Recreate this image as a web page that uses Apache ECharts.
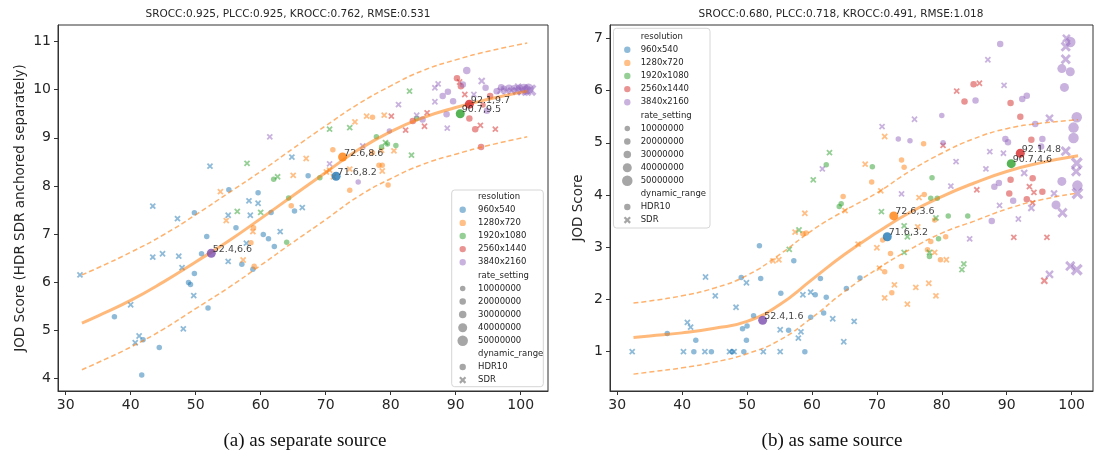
<!DOCTYPE html>
<html>
<head>
<meta charset="utf-8">
<script src="https://cdn.jsdelivr.net/npm/echarts@6/dist/echarts.min.js"></script>
<style>
html, body { margin: 0; padding: 0; background: #fff; }
#chart { width: 1099px; height: 460px; }
</style>
</head>
<body>
<div id="chart"></div>
<script>
// dynamic_range flag, rate_setting is stored as 1..5 (x 10000000)
var H = 0, S = 1;

var xTicks = [30, 40, 50, 60, 70, 80, 90, 100];
var leftYTicks = [4, 5, 6, 7, 8, 9, 10, 11];
var rightYTicks = [1, 2, 3, 4, 5, 6, 7];

var resolutions = ['960x540', '1280x720', '1920x1080', '2560x1440', '3840x2160'];
var rateSettings = ['10000000', '20000000', '30000000', '40000000', '50000000'];
var dynamicRanges = ['HDR10', 'SDR'];

// (a) as separate source
var left960 = [[32.2,6.15,1,S],[37.5,5.28,1,H],[40.0,5.53,1,S],[41.3,4.88,1,S],[40.7,4.74,1,S],[41.9,4.80,1,H],[44.4,4.64,1,H],[41.7,4.07,1,H],[43.4,7.58,1,S],[43.4,6.52,1,S],[44.9,6.59,1,S],[47.2,7.32,1,S],[47.4,6.54,1,S],[47.9,6.30,1,S],[48.9,5.99,1,H],[49.2,5.95,1,H],[49.7,5.72,1,S],[49.8,6.18,1,H],[49.8,7.44,1,H],[51.9,5.46,1,H],[51.7,6.95,1,H],[50.9,6.59,1,H],[48.1,5.03,1,S],[55.0,7.39,1,S],[55.0,6.43,1,S],[55.1,7.92,1,H],[56.2,7.13,1,H],[57.1,6.37,1,H],[58.2,7.69,1,S],[58.4,7.39,1,S],[57.8,6.81,1,S],[58.8,6.27,1,H],[59.6,7.86,1,H],[59.6,7.64,1,S],[60.4,6.99,1,H],[61.2,6.90,1,H],[61.6,7.45,1,H],[62.1,6.74,1,H],[63.0,7.05,1,S],[65.2,7.48,1,H],[66.4,7.55,1,S],[52.2,8.41,1,S],[64.8,8.60,1,S],[67.3,8.21,1,H]];
var left1280 = [[53.8,7.88,1,S],[54.7,7.28,1,S],[58.9,7.13,1,H],[58.8,7.05,1,S],[58.5,6.82,1,H],[57.3,6.46,1,S],[59.0,6.33,1,H],[64.7,7.59,1,H],[67.0,8.57,1,S],[65.0,8.22,1,S],[71.1,8.75,1,H],[70.6,8.33,1,S],[70.1,8.29,1,S],[73.7,8.35,1,S],[73.7,7.91,1,H],[76.3,9.45,1,S],[77.2,9.43,1,H],[79.0,9.47,1,S],[74.5,9.33,1,S],[77.2,8.69,1,H],[78.6,8.74,1,S],[78.2,8.43,1,H],[78.7,8.43,1,H],[78.7,8.31,1,S],[79.6,8.02,1,H],[80.5,8.73,1,S],[71.2,8.19,1,S]];
var left1920 = [[56.4,7.47,1,S],[60.0,7.45,1,S],[64.3,7.75,1,H],[64.0,6.83,1,H],[57.9,8.47,1,S],[62.0,8.14,1,H],[62.6,8.19,1,S],[70.6,9.18,1,S],[73.7,9.21,1,S],[82.9,9.97,1,S],[77.8,9.02,1,H],[78.6,8.81,1,H],[79.5,8.87,1,H],[80.8,8.84,1,H],[83.2,8.64,1,S],[69.1,8.17,1,H],[79.2,8.90,1,S],[84.0,9.40,1,H]];
var left2560 = [[80.1,9.45,1,S],[83.4,9.35,2,H],[82.3,9.16,1,S],[85.6,9.52,1,S],[85.2,9.24,1,S],[90.2,10.24,2,H],[90.6,10.16,1,S],[90.8,10.07,2,H],[91.4,9.90,1,S],[92.1,9.40,2,H],[93.0,9.18,2,H],[93.8,9.26,1,S],[93.9,8.81,2,H],[96.1,9.18,1,S],[95.3,9.87,2,H],[94.2,9.68,1,H]];
var left3840 = [[61.4,9.02,1,S],[70.6,8.46,1,S],[75.0,8.08,1,H],[75.7,8.83,1,S],[79.8,9.14,1,H],[81.2,9.69,1,S],[84.0,9.47,1,S],[84.9,9.38,2,H],[86.8,10.04,1,S],[87.3,10.12,1,S],[88.0,9.87,2,H],[86.8,9.75,1,S],[88.8,9.96,2,H],[88.7,9.20,1,S],[89.6,9.76,2,H],[88.6,9.49,2,H],[91.7,10.40,3,H],[91.1,10.11,2,H],[92.8,9.90,1,S],[94.0,10.18,2,S],[94.8,9.56,2,H],[94.6,10.04,2,H],[96.3,9.97,2,H],[96.9,9.98,2,S],[97.4,10.02,2,H],[97.8,9.97,2,S],[98.2,10.03,3,H],[98.6,9.98,2,S],[99.0,10.02,3,H],[99.4,9.97,3,S],[99.8,10.03,3,H],[100.2,9.98,4,S],[100.5,10.03,4,H],[100.9,9.97,4,S],[101.2,10.02,5,H],[101.5,9.99,5,S],[97.0,10.05,2,H],[99.6,10.06,2,S]];
var leftMarked = [[52.4,6.6],[71.6,8.2],[72.6,8.6],[90.7,9.5],[92.1,9.7]];

// (b) as same source
var right960 = [[37.7,1.35,1,H],[40.2,1.0,1,S],[41.8,1.0,1,H],[43.5,1.0,1,S],[44.5,1.0,1,H],[47.3,1.0,1,S],[48.0,1.0,1,S],[47.7,1.0,1,H],[52.5,1.0,1,S],[55.1,1.0,1,S],[58.9,1.0,1,H],[42.1,1.22,1,H],[40.8,1.56,1,S],[41.3,1.47,1,S],[43.6,2.43,1,S],[45.1,2.07,1,S],[48.3,1.85,1,S],[49.1,2.42,1,H],[49.9,2.32,1,S],[52.1,2.40,1,H],[51.9,3.03,1,H],[51.0,1.69,1,H],[49.3,1.44,1,H],[50.0,1.49,1,H],[49.9,1.22,1,H],[55.2,2.12,1,H],[55.1,1.42,1,S],[56.4,1.41,1,H],[57.9,1.26,1,S],[58.3,1.38,1,S],[58.6,2.09,1,S],[57.2,2.74,1,H],[59.8,2.14,1,S],[60.5,2.09,1,H],[59.8,1.66,1,H],[61.3,2.40,1,H],[62.2,2.04,1,H],[61.8,1.74,1,H],[63.2,1.63,1,S],[65.3,2.21,1,H],[66.5,1.58,1,S],[64.9,1.19,1,S],[67.4,2.41,1,H],[32.3,1.0,1,S],[49.5,1.0,1,H]];
var right1280 = [[54.0,2.74,1,S],[54.9,2.76,1,S],[57.4,3.29,1,S],[58.6,3.26,1,H],[59.1,3.27,1,H],[58.9,3.65,1,S],[64.8,3.97,1,H],[65.1,3.70,1,S],[67.1,3.06,1,S],[69.2,4.25,1,H],[68.2,4.59,1,S],[70.6,4.08,1,S],[70.0,2.99,1,S],[70.4,2.60,1,S],[71.2,2.03,1,S],[70.9,3.14,1,H],[71.2,5.12,1,S],[77.2,4.98,1,H],[73.8,4.67,1,H],[74.2,4.53,1,H],[76.5,3.95,1,S],[77.3,4.01,1,H],[78.9,3.52,1,H],[76.3,3.39,1,S],[72.1,2.88,1,H],[73.8,2.63,1,H],[78.3,3.11,1,H],[77.8,2.95,1,H],[78.9,2.90,1,S],[80.6,3.20,1,H],[79.8,2.76,1,H],[80.7,2.76,1,S],[71.2,2.53,1,H],[72.7,2.28,1,S],[72.3,2.13,1,H],[74.7,1.91,1,S],[76.0,2.23,1,S],[78.0,2.31,1,S],[79.1,2.07,1,S]];
var right1920 = [[56.5,2.96,1,S],[58.0,3.33,1,S],[60.2,4.29,1,S],[62.2,4.58,1,H],[62.7,4.81,1,S],[64.2,3.78,1,H],[64.5,3.83,1,H],[69.3,4.54,1,H],[70.7,3.68,1,S],[74.2,3.41,1,S],[74.7,3.20,1,S],[74.2,2.90,1,S],[78.5,4.33,1,H],[78.3,3.94,1,H],[79.3,3.94,1,H],[79.1,3.56,1,S],[81.0,3.60,1,H],[79.5,3.16,1,H],[78.1,2.82,1,H],[78.1,2.90,1,S],[83.4,2.68,1,S],[83.1,2.57,1,S],[84.0,3.60,1,H]];
var right2560 = [[82.3,5.99,1,S],[84.9,6.12,2,H],[85.8,6.14,1,S],[83.5,5.79,2,H],[90.6,5.76,2,H],[92.1,5.50,2,H],[80.2,4.95,1,S],[93.8,5.06,2,H],[94.0,4.32,2,H],[93.5,4.16,1,S],[94.2,4.05,1,S],[94.0,3.85,1,S],[95.5,4.06,2,H],[90.4,4.03,2,H],[90.6,4.29,2,H],[93.1,3.92,2,H],[85.4,4.10,1,S],[91.1,3.19,1,S],[96.2,3.19,1,S],[95.8,2.36,2,S]];
var right3840 = [[89.0,6.89,2,H],[87.1,6.59,1,S],[89.6,6.10,1,S],[92.4,5.84,2,H],[93.1,5.90,2,H],[85.2,5.81,2,H],[75.8,5.45,1,S],[80.0,5.52,1,H],[70.8,5.31,1,S],[73.3,5.07,1,H],[75.1,5.04,1,H],[80.2,5.00,1,H],[94.4,5.36,2,H],[89.8,5.07,2,H],[90.2,5.01,2,H],[95.5,5.07,2,H],[95.3,4.93,2,H],[87.4,4.83,1,S],[89.5,4.80,1,S],[82.2,4.64,1,S],[86.8,4.50,1,S],[92.7,4.42,2,S],[88.8,4.23,2,H],[88.1,4.16,2,H],[81.4,4.17,1,S],[73.8,4.02,1,S],[91.0,3.89,2,H],[88.9,3.80,1,S],[97.3,4.03,2,S],[93.8,3.75,2,S],[87.7,3.50,2,H],[91.8,3.54,1,S],[84.3,3.16,1,S],[61.6,4.50,1,S],[99.8,6.93,5,H],[99.1,6.84,4,S],[99.1,6.60,4,S],[98.5,6.42,4,H],[99.8,6.36,4,H],[98.9,6.06,4,H],[100.8,5.49,5,H],[96.6,5.47,3,S],[100.3,5.29,5,H],[100.3,5.09,5,H],[99.1,4.84,4,S],[98.5,4.26,4,H],[100.9,4.18,5,H],[97.6,3.81,4,H],[98.6,3.66,4,S],[100.8,4.61,5,S],[100.7,4.45,4,S],[100.9,4.03,5,S],[99.8,2.64,4,S],[100.8,2.57,5,S],[96.6,2.48,3,S],[99.2,7.0,3,S]];
var rightMarked = [[52.4,1.6],[71.6,3.2],[72.6,3.6],[90.7,4.6],[92.1,4.8]];

// fitted curve and its dashed band
var fitX = [32.5, 35, 40, 45, 50, 55, 60, 65, 70, 75, 80, 85, 90, 95, 101];
var leftFit = [5.15, 5.3, 5.62, 6.0, 6.42, 6.85, 7.32, 7.8, 8.28, 8.75, 9.13, 9.42, 9.63, 9.8, 9.97];
var leftUpper = [6.15, 6.3, 6.62, 6.98, 7.4, 7.85, 8.3, 8.78, 9.25, 9.7, 10.08, 10.4, 10.62, 10.8, 10.97];
var leftLower = [4.18, 4.33, 4.65, 5.02, 5.45, 5.88, 6.35, 6.83, 7.3, 7.78, 8.15, 8.45, 8.66, 8.84, 9.02];
var rightFit = [1.27, 1.3, 1.36, 1.45, 1.58, 1.9, 2.38, 2.86, 3.28, 3.66, 3.97, 4.23, 4.45, 4.61, 4.75];
var rightUpper = [1.93, 1.97, 2.07, 2.22, 2.46, 2.86, 3.32, 3.7, 4.04, 4.45, 4.8, 5.08, 5.27, 5.37, 5.44];
var rightLower = [0.57, 0.61, 0.69, 0.8, 0.96, 1.22, 1.65, 2.15, 2.58, 2.95, 3.27, 3.5, 3.73, 3.9, 4.04];

var chart = echarts.init(document.getElementById('chart'));

var COLORS = ['#1f77b4', '#ff7f0e', '#2ca02c', '#d62728', '#9467bd'];
var MARK_COLORS = ['#7b4cae', '#1f77b4', '#ff7f0e', '#2ca02c', '#d62728'];
var RATE_SIZE = [5.5, 6.5, 7.5, 9, 10.5];
var XMARK = 'path://M0,2L2,0L5,3L8,0L10,2L7,5L10,8L8,10L5,7L2,10L0,8L3,5Z';
var FONT = 'DejaVu Sans';

function pointSeries(data, color, idx) {
    return {
        type: 'scatter',
        xAxisIndex: idx,
        yAxisIndex: idx,
        data: data,
        silent: true,
        symbol: function (v) { return v[3] === S ? XMARK : 'circle'; },
        symbolSize: function (v) { return RATE_SIZE[v[2] - 1] * (v[3] === S ? 1.15 : 1); },
        itemStyle: { color: color, opacity: 0.5 },
        z: 2
    };
}

function curveSeries(ys, dashed, idx) {
    return {
        type: 'line',
        xAxisIndex: idx,
        yAxisIndex: idx,
        data: fitX.map(function (x, i) { return [x, ys[i]]; }),
        smooth: true,
        symbol: 'none',
        silent: true,
        lineStyle: dashed
            ? { color: '#ff7f0e', width: 1.5, type: [5, 3], opacity: 0.6 }
            : { color: '#ff7f0e', width: 3, opacity: 0.55 },
        z: 3
    };
}

function markedSeries(pts, idx) {
    return {
        type: 'scatter',
        xAxisIndex: idx,
        yAxisIndex: idx,
        symbolSize: 9,
        silent: true,
        data: pts.map(function (p, i) {
            return { value: p, itemStyle: { color: MARK_COLORS[i] } };
        }),
        label: {
            show: true,
            position: 'right',
            distance: -3,
            offset: [0, -4],
            formatter: function (p) { return p.value[0] + ',' + p.value[1]; },
            fontFamily: FONT,
            fontSize: 9.5,
            color: '#111'
        },
        z: 5
    };
}

function xAxisOf(idx, min, max) {
    return {
        type: 'value', gridIndex: idx, min: min, max: max,
        axisLine: { show: true, lineStyle: { color: '#333' } },
        axisTick: { show: true, customValues: xTicks, length: 4, lineStyle: { color: '#333' } },
        axisLabel: { customValues: xTicks, fontFamily: FONT, fontSize: 14, color: '#262626', margin: 7 },
        splitLine: { show: false }
    };
}

function yAxisOf(idx, min, max, ticks, name, gap) {
    return {
        type: 'value', gridIndex: idx, min: min, max: max,
        name: name, nameLocation: 'middle', nameGap: gap, nameRotate: 90,
        nameTextStyle: { fontFamily: FONT, fontSize: 13.5, color: '#262626' },
        axisLine: { show: true, lineStyle: { color: '#333' } },
        axisTick: { show: true, customValues: ticks, length: 4, lineStyle: { color: '#333' } },
        axisLabel: { customValues: ticks, fontFamily: FONT, fontSize: 14, color: '#262626', margin: 7 },
        splitLine: { show: false }
    };
}

function legendGraphic(bx, by, bw, bh, rowY, markX, textX) {
    var step = 13.1;
    var els = [{
        type: 'rect', z: 100,
        shape: { x: bx, y: by, width: bw, height: bh, r: 3 },
        style: { fill: 'rgba(255,255,255,0.85)', stroke: '#d6d6d6', lineWidth: 1 }
    }];
    var row = 0;
    function text(t) {
        els.push({ type: 'text', z: 101, style: { text: t, x: textX, y: rowY + row * step, font: '8.5px ' + FONT, fill: '#262626', textVerticalAlign: 'middle' } });
    }
    text('resolution'); row++;
    resolutions.forEach(function (r, i) {
        els.push({ type: 'circle', z: 101, shape: { cx: markX, cy: rowY + row * step, r: 3.2 }, style: { fill: COLORS[i], opacity: 0.5 } });
        text(r); row++;
    });
    text('rate_setting'); row++;
    rateSettings.forEach(function (r, i) {
        els.push({ type: 'circle', z: 101, shape: { cx: markX, cy: rowY + row * step, r: RATE_SIZE[i] / 2 }, style: { fill: '#a6a6a6' } });
        text(r); row++;
    });
    text('dynamic_range'); row++;
    dynamicRanges.forEach(function (d) {
        var cy = rowY + row * step;
        if (d === 'SDR') {
            els.push({ type: 'line', z: 101, shape: { x1: markX - 2.8, y1: cy - 2.8, x2: markX + 2.8, y2: cy + 2.8 }, style: { stroke: '#a6a6a6', lineWidth: 2.2 } });
            els.push({ type: 'line', z: 101, shape: { x1: markX - 2.8, y1: cy + 2.8, x2: markX + 2.8, y2: cy - 2.8 }, style: { stroke: '#a6a6a6', lineWidth: 2.2 } });
        } else {
            els.push({ type: 'circle', z: 101, shape: { cx: markX, cy: cy, r: 3.2 }, style: { fill: '#a6a6a6' } });
        }
        text(d); row++;
    });
    return els;
}

function drawChart() {
    var graphics = [
        { type: 'text', style: { text: 'SROCC:0.925, PLCC:0.925, KROCC:0.762, RMSE:0.531', x: 288, y: 14, font: '10.5px ' + FONT, fill: '#262626', textAlign: 'center', textVerticalAlign: 'middle' } },
        { type: 'text', style: { text: 'SROCC:0.680, PLCC:0.718, KROCC:0.491, RMSE:1.018', x: 841, y: 14, font: '10.5px ' + FONT, fill: '#262626', textAlign: 'center', textVerticalAlign: 'middle' } },
        { type: 'text', style: { text: '(a) as separate source', x: 305, y: 441, font: '19px Liberation Serif', fill: '#111', textAlign: 'center', textVerticalAlign: 'middle' } },
        { type: 'text', style: { text: '(b) as same source', x: 832, y: 441, font: '19px Liberation Serif', fill: '#111', textAlign: 'center', textVerticalAlign: 'middle' } }
    ];
    graphics = graphics
        .concat(legendGraphic(451.7, 190, 91.6, 196.7, 196.7, 462.7, 478))
        .concat(legendGraphic(613.5, 28.3, 96.5, 199.7, 36.7, 627.3, 640.7));

    var series = [];
    [left960, left1280, left1920, left2560, left3840].forEach(function (d, i) { series.push(pointSeries(d, COLORS[i], 0)); });
    [right960, right1280, right1920, right2560, right3840].forEach(function (d, i) { series.push(pointSeries(d, COLORS[i], 1)); });
    series.push(curveSeries(leftFit, false, 0), curveSeries(leftUpper, true, 0), curveSeries(leftLower, true, 0));
    series.push(curveSeries(rightFit, false, 1), curveSeries(rightUpper, true, 1), curveSeries(rightLower, true, 1));
    series.push(markedSeries(leftMarked, 0), markedSeries(rightMarked, 1));

    chart.setOption({
        animation: false,
        backgroundColor: '#fff',
        grid: [
            { left: 58, top: 25, width: 490, height: 366, show: true, borderColor: '#333', borderWidth: 1 },
            { left: 610, top: 25, width: 483, height: 366, show: true, borderColor: '#333', borderWidth: 1 }
        ],
        xAxis: [xAxisOf(0, 28.82, 104.2), xAxisOf(1, 28.88, 103.3)],
        yAxis: [
            yAxisOf(0, 3.737, 11.345, leftYTicks, 'JOD Score (HDR SDR anchored separately)', 31),
            yAxisOf(1, 0.247, 7.255, rightYTicks, 'JOD Score', 25)
        ],
        series: series,
        graphic: graphics
    });
}

drawChart();
</script>
</body>
</html>
